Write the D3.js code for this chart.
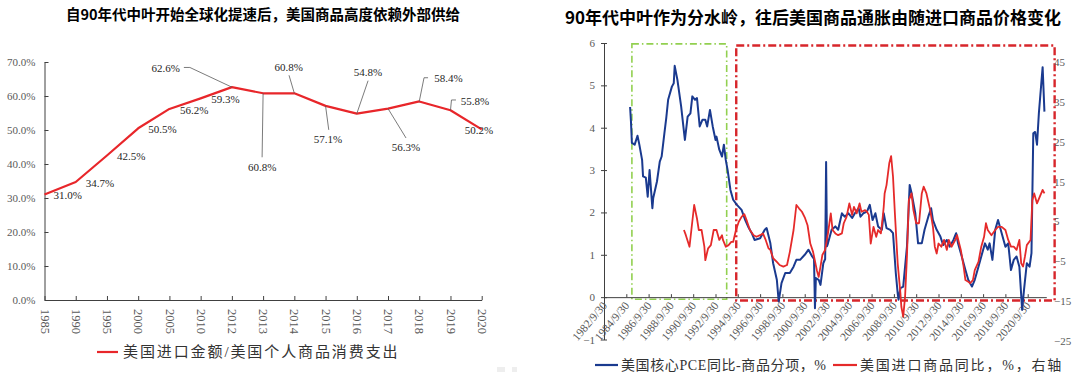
<!DOCTYPE html>
<html lang="zh">
<head>
    <meta charset="UTF-8">
    <title>进口与通胀</title>

    <script src="https://d3js.org/d3.v7.min.js"></script>

    <style>
        body {
            margin: 0;
            background: #ffffff;
        }
        svg {
            display: block;
        }
        .title {
            font-family: "Noto Sans CJK SC", sans-serif;
            font-weight: bold;
            fill: #000000;
        }
        .num {
            font-family: "Liberation Serif", "Times New Roman", serif;
        }
        .legend {
            font-family: "Liberation Serif", "Noto Sans CJK SC", serif;
            fill: #333333;
        }
    </style>

    <script>

        // left panel: 美国进口金额/美国个人商品消费支出
        const leftYears = ["1985", "1990", "1995", "2000", "2005", "2010", "2012", "2013",
            "2014", "2015", "2016", "2017", "2018", "2019", "2020"];
        const importShare = [31.0, 34.7, 42.5, 50.5, 56.2, 59.3, 62.6, 60.8, 60.8, 57.1, 54.8, 56.3, 58.4, 55.8, 50.2];
        const leftYTicks = [0, 10, 20, 30, 40, 50, 60, 70];

        // right panel, left axis: 美国核心PCE同比-商品分项
        const pceGoods = [
            ["1985-02", 4.49], ["1985-03", 4.15], ["1985-04", 3.64], ["1985-07", 3.6], ["1985-10", 3.81], ["1985-12", 3.6],
            ["1986-03", 3.24], ["1986-04", 2.85], ["1986-07", 2.82], ["1986-09", 2.37], ["1986-11", 3.0],
            ["1987-02", 2.1], ["1987-03", 2.34], ["1987-07", 2.73], ["1987-10", 3.2], ["1987-12", 3.32],
            ["1988-03", 3.87], ["1988-05", 4.23], ["1988-07", 4.66], ["1988-11", 4.97],
            ["1989-01", 5.05], ["1989-02", 5.46], ["1989-05", 5.13], ["1989-09", 4.5], ["1989-11", 4.1],
            ["1990-01", 3.71], ["1990-04", 4.26], ["1990-07", 4.34], ["1990-09", 4.74], ["1990-12", 4.66],
            ["1991-02", 4.7], ["1991-05", 4.03], ["1991-08", 4.19], ["1991-11", 4.19],
            ["1992-01", 4.03], ["1992-04", 4.42], ["1992-07", 4.03], ["1992-10", 3.71], ["1992-11", 3.79],
            ["1993-02", 3.48], ["1993-05", 3.32], ["1993-07", 3.6], ["1993-09", 3.24], ["1993-11", 3.0],
            ["1994-02", 2.53], ["1994-05", 2.3], ["1994-09", 2.18],
            ["1995-02", 2.06], ["1995-06", 1.82], ["1995-09", 1.67],
            ["1996-01", 1.51], ["1996-04", 1.35], ["1996-10", 1.39],
            ["1997-03", 1.59], ["1997-05", 1.63], ["1997-09", 1.27], ["1997-12", 0.8],
            ["1998-04", 0.41], ["1998-06", -0.1], ["1998-09", 0.33],
            ["1999-01", 0.57], ["1999-06", 0.57], ["1999-10", 0.72],
            ["2000-01", 0.88], ["2000-05", 0.88], ["2000-10", 1.0],
            ["2001-02", 1.12], ["2001-06", 0.96], ["2001-08", 0.9], ["2001-09", -0.26], ["2001-10", 0.45],
            ["2002-01", 0.41], ["2002-03", 0.29], ["2002-06", 0.8], ["2002-08", 0.9], ["2002-09", 3.19], ["2002-10", 1.2],
            ["2002-11", 1.27], ["2003-03", 1.59], ["2003-07", 1.67], ["2003-10", 1.59],
            ["2004-02", 1.98], ["2004-05", 1.9], ["2004-09", 1.98],
            ["2005-01", 1.87], ["2005-04", 1.98], ["2005-08", 2.1], ["2005-10", 1.9],
            ["2006-01", 1.98], ["2006-05", 2.02], ["2006-08", 2.18], ["2006-11", 1.82],
            ["2007-02", 1.98], ["2007-05", 1.67], ["2007-09", 1.59], ["2007-11", 1.98],
            ["2008-02", 1.63], ["2008-06", 1.59], ["2008-09", 1.51], ["2008-12", 0.57],
            ["2009-02", 0.09], ["2009-03", -0.06], ["2009-05", 0.21], ["2009-08", 0.25], ["2009-12", 1.19],
            ["2010-03", 2.65], ["2010-05", 2.46], ["2010-09", 1.98], ["2010-12", 1.27],
            ["2011-04", 1.27], ["2011-07", 1.59], ["2011-11", 1.9],
            ["2012-02", 2.1], ["2012-04", 1.82], ["2012-08", 1.59], ["2012-12", 1.43],
            ["2013-03", 1.23], ["2013-07", 1.35], ["2013-10", 1.19],
            ["2014-02", 1.35], ["2014-05", 1.51], ["2014-07", 1.27], ["2014-11", 0.96],
            ["2015-03", 0.64], ["2015-06", 0.41], ["2015-10", 0.25],
            ["2016-01", 0.41], ["2016-05", 0.72], ["2016-08", 0.96], ["2016-12", 1.27],
            ["2017-03", 1.12], ["2017-05", 1.27], ["2017-08", 0.88], ["2017-11", 1.59],
            ["2018-02", 1.82], ["2018-06", 1.51], ["2018-10", 1.19],
            ["2019-01", 1.27], ["2019-04", 0.64], ["2019-07", 0.88], ["2019-10", 0.96],
            ["2020-01", 0.72], ["2020-04", -0.3], ["2020-06", 0.17], ["2020-09", 0.8], ["2020-12", 0.72],
            ["2021-02", 1.04], ["2021-04", 3.87], ["2021-06", 3.9], ["2021-08", 3.6], ["2021-10", 4.34],
            ["2022-02", 5.43], ["2022-04", 4.38]
        ];

        // right panel, right axis: 美国进口商品同比
        const importPrices = [
            ["1989-12", 2.8], ["1990-02", 1.5], ["1990-06", -1.4], ["1990-08", 2.8], ["1990-11", 9.1],
            ["1991-02", 5.7], ["1991-04", 2.8], ["1991-07", 2.8], ["1991-10", -1.4], ["1991-11", -4.8],
            ["1992-02", -1.8], ["1992-05", -1.0], ["1992-08", 2.8], ["1992-11", 2.8],
            ["1993-02", 0.3], ["1993-05", 1.5], ["1993-06", 0.3], ["1993-09", -1.4], ["1993-12", -1.0],
            ["1994-03", -0.2], ["1994-05", -0.2], ["1994-08", 2.8], ["1994-11", 4.9],
            ["1995-02", 6.1], ["1995-05", 6.8], ["1995-08", 4.9], ["1995-11", 2.8],
            ["1996-03", 1.5], ["1996-06", 1.1], ["1996-10", 1.5],
            ["1997-01", 1.95], ["1997-04", 0.3], ["1997-07", -1.8], ["1997-09", -2.2], ["1997-12", -4.3],
            ["1998-04", -5.2], ["1998-07", -6.0], ["1998-11", -6.4],
            ["1999-03", -6.0], ["1999-06", -2.7], ["1999-10", 2.8],
            ["2000-01", 9.1], ["2000-04", 8.2], ["2000-07", 7.4], ["2000-10", 6.0],
            ["2001-01", 4.0], ["2001-04", -0.6], ["2001-07", -2.7], ["2001-11", -7.3],
            ["2002-01", -9.0], ["2002-03", -6.4], ["2002-05", -3.5], ["2002-08", -2.2], ["2002-11", 1.95],
            ["2003-02", 7.0], ["2003-04", 2.8], ["2003-07", 1.95], ["2003-10", 1.5],
            ["2004-02", 1.95], ["2004-04", 4.5], ["2004-07", 6.1], ["2004-10", 9.5],
            ["2005-01", 6.6], ["2005-03", 8.6], ["2005-06", 7.0], ["2005-09", 9.5], ["2005-11", 7.4],
            ["2006-03", 7.8], ["2006-05", 7.4], ["2006-07", 6.6], ["2006-09", -0.6], ["2006-12", 3.6],
            ["2007-03", 1.1], ["2007-05", 2.8], ["2007-08", 1.95], ["2007-10", 6.1], ["2007-11", 8.6], ["2007-12", 12.0],
            ["2008-02", 14.1], ["2008-05", 19.6], ["2008-07", 21.4], ["2008-09", 16.2], ["2008-11", 7.0],
            ["2009-02", -5.6], ["2009-05", -13.1], ["2009-06", -16.5], ["2009-08", -19.0], ["2009-10", -14.0], ["2009-12", -3.9],
            ["2010-02", 10.3], ["2010-05", 12.0], ["2010-07", 7.8], ["2010-10", 4.5],
            ["2011-01", 4.5], ["2011-04", 12.0], ["2011-06", 13.7], ["2011-09", 12.0],
            ["2012-01", 7.8], ["2012-04", 3.6], ["2012-06", -1.4], ["2012-08", -3.1], ["2012-10", -0.6],
            ["2013-01", -1.4], ["2013-04", 0.3], ["2013-07", -2.2], ["2013-09", 0.3], ["2013-12", -1.4],
            ["2014-04", 0.3], ["2014-06", 1.5], ["2014-10", -2.2],
            ["2015-01", -6.4], ["2015-03", -9.8], ["2015-06", -10.2], ["2015-08", -10.6], ["2015-11", -9.8],
            ["2016-01", -7.3], ["2016-05", -5.2], ["2016-08", -1.4], ["2016-11", 1.1],
            ["2017-01", 4.5], ["2017-03", 2.8], ["2017-07", 1.5], ["2017-11", 2.8],
            ["2018-02", 3.6], ["2018-06", 3.6], ["2018-10", 2.8],
            ["2019-01", 0.3], ["2019-04", -1.4], ["2019-07", -1.4], ["2019-10", -2.2],
            ["2020-01", 0.3], ["2020-03", -5.6], ["2020-05", -6.4], ["2020-07", -3.9], ["2020-09", -1.0],
            ["2021-01", 0.3], ["2021-03", 10.3], ["2021-05", 12.0], ["2021-08", 9.5], ["2021-11", 11.2],
            ["2022-02", 12.9], ["2022-04", 12.0]
        ];

        const rightLeftTicks = [-1, 0, 1, 2, 3, 4, 5, 6];
        const rightRightTicks = [-25, -15, -5, 5, 15, 25, 35, 45];
        const dateTickYears = d3.range(1982, 2021, 2);

        document.addEventListener("DOMContentLoaded", () => {
            const svg = d3.select("#chart");
            makeLeft(svg);
            makeRight(svg);
        });

        function makeLeft(svg) {
            const red = "#e8262a";
            const grey = "#595959";

            svg.append("text").attr("class", "title")
                .attr("x", 263).attr("y", 20)
                .attr("text-anchor", "middle")
                .attr("font-size", "14.5px")
                .text("自90年代中叶开始全球化提速后，美国商品高度依赖外部供给");

            const x = d3.scalePoint().domain(leftYears).range([44.5, 481.7]);
            const y = d3.scaleLinear().domain([0, 70]).range([300, 62]);

            const yAxis = svg.append("g")
                .attr("transform", "translate(44.5,0)")
                .call(d3.axisLeft(y).tickValues(leftYTicks)
                    .tickFormat(d => d.toFixed(1) + "%")
                    .tickSizeInner(-4).tickSizeOuter(0).tickPadding(9));
            yAxis.select(".domain").attr("stroke", "#404040");
            yAxis.selectAll(".tick line").attr("stroke", "#404040");
            yAxis.selectAll("text").attr("class", "num").attr("font-size", "11px").attr("fill", grey);

            const xAxis = svg.append("g")
                .attr("transform", "translate(0,300)")
                .call(d3.axisBottom(x).tickSizeInner(-4).tickSizeOuter(0));
            xAxis.select(".domain").attr("stroke", "#404040");
            xAxis.selectAll(".tick line").attr("stroke", "#404040");
            xAxis.selectAll("text")
                .attr("class", "num").attr("font-size", "12.5px").attr("fill", grey)
                .attr("text-anchor", "start")
                .attr("transform", "translate(0,9) rotate(90)")
                .attr("x", 0).attr("y", 0).attr("dy", "0.35em");

            const pts = leftYears.map((yr, i) => ({yr: yr, v: importShare[i]}));

            svg.append("path")
                .datum(pts)
                .attr("fill", "none")
                .attr("stroke", red)
                .attr("stroke-width", 2.2)
                .attr("stroke-linejoin", "round")
                .attr("d", d3.line().x(d => x(d.yr)).y(d => y(d.v)));

            // label placement relative to the point, leader lines where the original has them
            const labelLayout = [
                {tx: 9, ty: 1, anchor: "start"},
                {tx: 10, ty: 1, anchor: "start"},
                {tx: 10, ty: 0.5, anchor: "start"},
                {tx: 10, ty: 1, anchor: "start"},
                {tx: 10.5, ty: 1, anchor: "start"},
                {tx: 10.5, ty: 0.5, anchor: "start"},
                {tx: -52, ty: -19.5, anchor: "end", leader: [[-42, -19.7], [-48, -19.7]]},
                {tx: -1, ty: 74, anchor: "middle", leader: [[-1, 64]]},
                {tx: -5.5, ty: -26, anchor: "middle", leader: [[-5.3, -18]]},
                {tx: 2.5, ty: 33, anchor: "middle", leader: [[3.2, 24]]},
                {tx: 11.3, ty: -41.3, anchor: "middle", leader: [[11.3, -33]]},
                {tx: 18, ty: 39, anchor: "middle", leader: [[18, 29.4]]},
                {tx: 15, ty: -23.4, anchor: "start", leader: [[4.8, -23.7], [8.8, -23.7]]},
                {tx: 10.2, ty: -9.6, anchor: "start", leader: [[1, -10.3], [5.5, -10.3]]},
                {tx: -2.7, ty: 0.7, anchor: "middle"}
            ];

            const lbl = svg.append("g");
            pts.forEach((d, i) => {
                const px = x(d.yr), py = y(d.v);
                const l = labelLayout[i];
                if (l.leader) {
                    const path = d3.path();
                    path.moveTo(px, py);
                    l.leader.forEach(p => path.lineTo(px + p[0], py + p[1]));
                    lbl.append("path").attr("d", path.toString())
                        .attr("fill", "none").attr("stroke", "#595959").attr("stroke-width", 0.8);
                }
                lbl.append("text").attr("class", "num")
                    .attr("x", px + l.tx).attr("y", py + l.ty).attr("dy", "0.35em")
                    .attr("text-anchor", l.anchor)
                    .attr("font-size", "11px").attr("fill", "#262626")
                    .text(d.v.toFixed(1) + "%");
            });

            // legend
            svg.append("line").attr("x1", 97).attr("x2", 118).attr("y1", 352).attr("y2", 352)
                .attr("stroke", red).attr("stroke-width", 2.2);
            svg.append("text").attr("class", "legend")
                .attr("x", 123).attr("y", 352).attr("dy", "0.35em")
                .attr("font-size", "15px").attr("letter-spacing", "1.9px")
                .text("美国进口金额/美国个人商品消费支出");

            // faint marks at the bottom edge
            svg.append("rect").attr("x", 497).attr("y", 367).attr("width", 8).attr("height", 5).attr("fill", "#eeeeee");
            svg.append("rect").attr("x", 512).attr("y", 367).attr("width", 5).attr("height", 5).attr("fill", "#eeeeee");
        }

        function makeRight(svg) {
            const blue = "#1a3a8f";
            const red = "#e52a2a";
            const grey = "#595959";
            const parse = d3.timeParse("%Y-%m");

            svg.append("text").attr("class", "title")
                .attr("x", 813).attr("y", 24)
                .attr("text-anchor", "middle")
                .attr("font-size", "17px")
                .text("90年代中叶作为分水岭，往后美国商品通胀由随进口商品价格变化");

            const x = d3.scaleTime()
                .domain([new Date(1982, 8, 30), new Date(2020, 8, 30)])
                .range([604, 1027.7]);
            const yL = d3.scaleLinear().domain([-1, 6]).range([339.5, 43]);
            const yR = d3.scaleLinear().domain([-25, 45]).range([340.5, 62.3]);

            // highlight boxes
            const boxes = [
                {from: new Date(1985, 3, 1), to: new Date(1993, 9, 1), top: 5.98, bottom: -0.05,
                    color: "#92d050", width: 1.6, dash: "7,3,1.5,3"},
                {from: new Date(1994, 7, 10), to: new Date(2023, 2, 1), top: 5.94, bottom: -0.08,
                    color: "#d7262b", width: 2.4, dash: "8,3,2,3"}
            ];
            boxes.forEach(b => {
                svg.append("rect")
                    .attr("x", x(b.from)).attr("y", yL(b.top))
                    .attr("width", x(b.to) - x(b.from)).attr("height", yL(b.bottom) - yL(b.top))
                    .attr("fill", "none").attr("stroke", b.color)
                    .attr("stroke-width", b.width).attr("stroke-dasharray", b.dash);
            });

            // left axis
            const la = svg.append("g")
                .attr("transform", "translate(604,0)")
                .call(d3.axisLeft(yL).tickValues(rightLeftTicks).tickFormat(d3.format("d"))
                    .tickSizeInner(3).tickSizeOuter(0).tickPadding(6));
            la.select(".domain").attr("stroke", "#404040");
            la.selectAll(".tick line").attr("stroke", "#404040").attr("x2", 3).attr("x1", -3);
            la.selectAll("text").attr("class", "num").attr("font-size", "11px").attr("fill", grey);

            // right axis labels
            const ra = svg.append("g")
                .attr("transform", "translate(1048,0)")
                .call(d3.axisRight(yR).tickValues(rightRightTicks).tickFormat(d3.format("d"))
                    .tickSize(0).tickPadding(6));
            ra.select(".domain").remove();
            ra.selectAll("text").attr("class", "num").attr("font-size", "11px").attr("fill", grey);

            // date axis at zero
            const axisEnd = new Date(2022, 5, 1);
            const xAxisScale = x.copy().domain([new Date(1982, 8, 30), axisEnd]).range([604, x(axisEnd)]);
            const tickDates = dateTickYears.map(yr => new Date(yr, 8, 30));
            const xa = svg.append("g")
                .attr("transform", "translate(0," + yL(0) + ")")
                .call(d3.axisBottom(xAxisScale).tickValues(tickDates)
                    .tickFormat(d3.timeFormat("%Y/%-m/%d"))
                    .tickSizeInner(-3).tickSizeOuter(0));
            xa.select(".domain").attr("stroke", "#404040");
            xa.selectAll(".tick line").attr("stroke", "#404040");
            xa.selectAll("text")
                .attr("class", "num").attr("font-size", "11.5px").attr("fill", grey)
                .attr("text-anchor", "end")
                .attr("transform", "translate(0,6) rotate(-50)")
                .attr("x", 0).attr("y", 0).attr("dy", "0.35em");

            const blueData = pceGoods.map(d => ({date: parse(d[0]), v: d[1]}));
            const redData = importPrices.map(d => ({date: parse(d[0]), v: d[1]}));

            svg.append("path")
                .datum(blueData)
                .attr("fill", "none").attr("stroke", blue).attr("stroke-width", 2)
                .attr("stroke-linejoin", "round")
                .attr("d", d3.line().x(d => x(d.date)).y(d => yL(d.v)));

            svg.append("path")
                .datum(redData)
                .attr("fill", "none").attr("stroke", red).attr("stroke-width", 1.8)
                .attr("stroke-linejoin", "round")
                .attr("d", d3.line().x(d => x(d.date)).y(d => yR(d.v)));

            // legend
            svg.append("line").attr("x1", 595).attr("x2", 618).attr("y1", 365).attr("y2", 365)
                .attr("stroke", blue).attr("stroke-width", 2.2);
            svg.append("text").attr("class", "legend")
                .attr("x", 621).attr("y", 365).attr("dy", "0.35em")
                .attr("font-size", "14px").attr("letter-spacing", "0.6px")
                .text("美国核心PCE同比-商品分项，%");
            svg.append("line").attr("x1", 833).attr("x2", 857).attr("y1", 365).attr("y2", 365)
                .attr("stroke", red).attr("stroke-width", 2.2);
            svg.append("text").attr("class", "legend")
                .attr("x", 860).attr("y", 365).attr("dy", "0.35em")
                .attr("font-size", "14px").attr("letter-spacing", "1.8px")
                .text("美国进口商品同比，%，右轴");
        }

    </script>

</head>
<body>
    <svg id="chart" width="1080" height="372"></svg>
</body>
</html>
